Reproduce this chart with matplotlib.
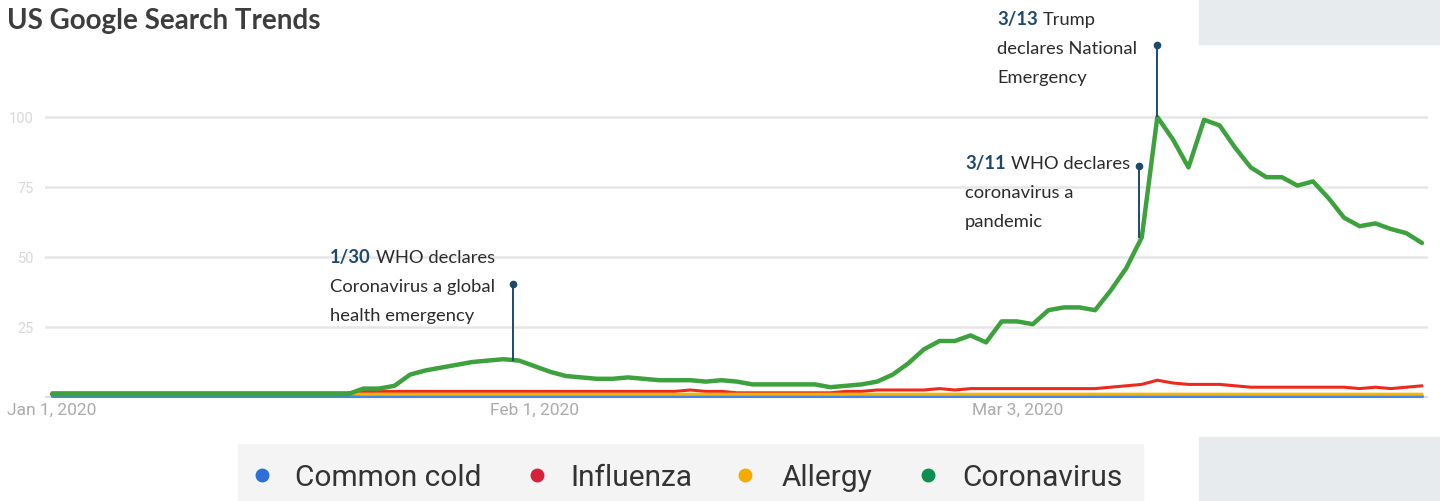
import matplotlib
matplotlib.use("Agg")
import matplotlib.pyplot as plt
from matplotlib.patches import Rectangle

# daily values, Jan 1 2020 (day 0) to Mar 29 2020 (day 88)
days = list(range(89))
coronavirus = [1, 1, 1, 1, 1, 1, 1, 1, 1, 1, 1, 1, 1, 1, 1, 1, 1, 1, 1, 1,
               3, 3, 4, 8, 9.5, 10.5, 11.5, 12.5, 13, 13.5, 13, 11, 9, 7.5, 7, 6.5,
               6.5, 7, 6.5, 6, 6, 6, 5.5, 6, 5.5, 4.5, 4.5, 4.5, 4.5, 4.5, 3.5, 4,
               4.5, 5.5, 8, 12, 17, 20, 20, 22, 19.5, 27, 27, 26, 31, 32, 32, 31,
               38, 46, 57, 100, 92, 82, 99, 97, 89, 82, 78.5, 78.5, 75.5, 77, 71,
               64, 61, 62, 60, 58.5, 55]
influenza = [1.5, 1.5, 1.5, 1.5, 1.5, 1.5, 1.5, 1.5, 1.5, 1.5, 1.5, 1.5, 1.5, 1.5,
             1.5, 1.5, 1.5, 1.5, 1.5, 1.5, 2, 2, 2, 2, 2, 2, 2, 2, 2, 2, 2, 2, 2, 2,
             2, 2, 2, 2, 2, 2, 2, 2.5, 2, 2, 1.5, 1.5, 1.5, 1.5, 1.5, 1.5, 1.5, 2,
             2, 2.5, 2.5, 2.5, 2.5, 3, 2.5, 3, 3, 3, 3, 3, 3, 3, 3, 3, 3.5, 4, 4.5,
             6, 5, 4.5, 4.5, 4.5, 4, 3.5, 3.5, 3.5, 3.5, 3.5, 3.5, 3.5, 3, 3.5, 3,
             3.5, 4]
allergy = [1.2, 1.2, 1.2, 1.2, 1.2, 1.2, 1.2, 1.2, 1.2, 1.2, 1.2, 1.2, 1.2, 1.2,
           1.2, 1.2, 1.2, 1.2, 1.2, 1.2, 1, 1, 1, 1, 1, 1, 1, 1, 1, 1, 1, 1, 1, 1,
           1, 1, 1, 1, 1, 1, 1, 1, 1, 1, 1, 1, 1, 1, 1, 1, 1, 1, 1, 1, 1, 1, 1, 1,
           1, 1, 1, 1, 1, 1, 1, 1, 1, 1, 1, 1, 1, 1, 1, 1, 1, 1, 1, 1, 1, 1, 1, 1,
           1, 1, 1, 1, 1, 1, 1]
common_cold = [0.5] * 89

series_names = ["Common cold", "Influenza", "Allergy", "Coronavirus"]
line_colors = ["#4285f4", "#ee2a1f", "#f4b400", "#3da23d"]
dot_colors = ["#2f6fd8", "#d9203a", "#f5ab00", "#0d8f4f"]

x_ticks = [0, 31, 62]
x_labels = ["Jan 1, 2020", "Feb 1, 2020", "Mar 3, 2020"]
y_ticks = [25, 50, 75, 100]

# annotations: day, top of stem (value), bold date, text lines
events = [
    (29.6, 40.4, "1/30", ["WHO declares", "Coronavirus a global", "health emergency"]),
    (69.8, 82.5, "3/11", ["WHO declares", "coronavirus a", "pandemic"]),
    (71.0, 125.7, "3/13", ["Trump", "declares National", "Emergency"]),
]
text_pos = [(330, 263), (965, 169), (997, 25)]

W, H = 1440, 502
fig = plt.figure(figsize=(W / 100, H / 100), dpi=100)

def fx(px):
    return px / W

def fy(py):
    return 1 - py / H

# grey panels on the right
fig.patches.append(Rectangle((fx(1199), fy(45)), fx(241), 45 / H, transform=fig.transFigure,
                             color="#e7ebee", zorder=0))
fig.patches.append(Rectangle((fx(1199), 0), fx(241), 64 / H, transform=fig.transFigure,
                             color="#e7ebee", zorder=0))
fig.patches.append(Rectangle((fx(238), 0), fx(905), 57 / H, transform=fig.transFigure,
                             color="#f4f4f4", zorder=0))

px_day = 1370 / 88
px_val = 2.8
ax = fig.add_axes([fx(45), fy(400), fx(1428 - 45), 300 / H])
ax.set_xlim((45 - 52) / px_day, (1428 - 52) / px_day)
ax.set_ylim((398 - 400) / px_val, (398 - 100) / px_val)
ax.patch.set_alpha(0)

all_series = [common_cold, influenza, allergy, coronavirus]
widths = [2.2, 2.2, 2.2, 3.2]
for vals, c, lw in zip(all_series, line_colors, widths):
    ax.plot(days, vals, color=c, lw=lw, solid_capstyle="round", zorder=3)

ax.axhline(0, color="#dddddd", lw=1.5, zorder=1)
ax.set_yticks(y_ticks)
ax.set_yticklabels([str(v) for v in y_ticks], fontsize=10.5, color="#d8d8d8", family="Roboto")
ax.set_xticks(x_ticks)
ax.set_xticklabels(x_labels, fontsize=12.5, color="#ababab", family="Roboto")
ax.tick_params(length=0, axis="y", pad=8)
ax.tick_params(length=0, axis="x", pad=2)
ax.grid(axis="y", color="#e6e6e6", lw=1.8, zorder=0)
for s in ax.spines.values():
    s.set_visible(False)

navy = "#1d4a6b"
for (d, top, date, lines), (tx, ty) in zip(events, text_pos):
    low = coronavirus[int(round(d))] + 0.3
    ax.plot([d, d], [low, top], color=navy, lw=1.4, clip_on=False, zorder=4)
    ax.plot([d], [top], "o", color=navy, ms=4.5, clip_on=False, zorder=4)

# title
fig.text(fx(7), fy(29), "US Google Search Trends", fontsize=20, fontweight="bold",
         color="#3d3d3d", family="Lato", va="baseline")

fig.canvas.draw()
renderer = fig.canvas.get_renderer()
for (d, top, date, lines), (tx, ty) in zip(events, text_pos):
    t = fig.text(fx(tx), fy(ty), date, fontsize=13.2, fontweight="bold", color=navy,
                 family="Lato", va="baseline")
    bb = t.get_window_extent(renderer)
    fig.text(fx(bb.x1 + 5), fy(ty), lines[0], fontsize=13.2, color="#2b2b2b",
             family="Lato", va="baseline")
    for i, ln in enumerate(lines[1:]):
        fig.text(fx(tx), fy(ty + 29 * (i + 1)), ln, fontsize=13.2, color="#2b2b2b",
                 family="Lato", va="baseline")

# legend
dot_x = [262, 537, 745, 928]
text_x = [295, 570, 782, 962]
for name, c, dx, tx in zip(series_names, dot_colors, dot_x, text_x):
    fig.lines.append(plt.Line2D([fx(dx)], [fy(476)], marker="o", ms=9, color=c,
                                transform=fig.transFigure))
    fig.text(fx(tx), fy(486), name, fontsize=21.5, color="#333333", family="Roboto",
             va="baseline")

fig.savefig("out.png", dpi=100)
